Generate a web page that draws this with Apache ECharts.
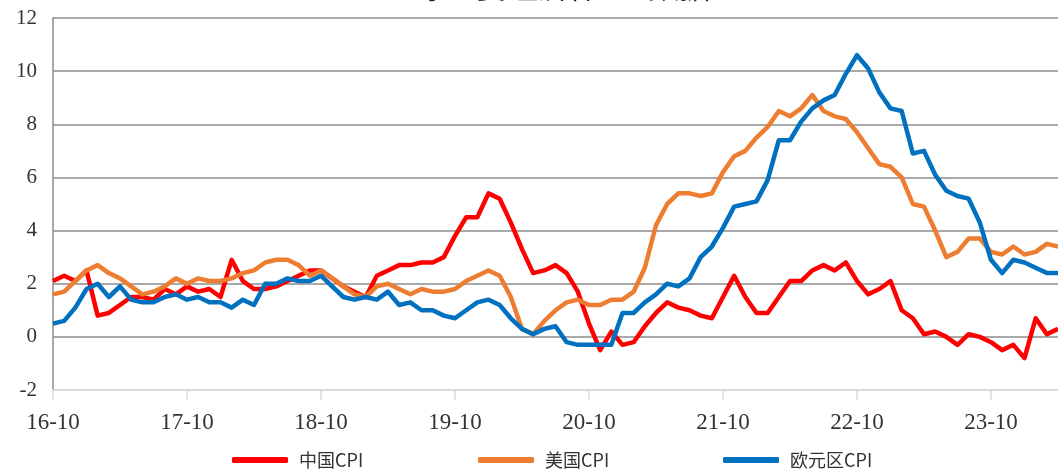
<!DOCTYPE html>
<html>
<head>
<meta charset="utf-8">
<script src="https://cdn.jsdelivr.net/npm/echarts@6/dist/echarts.min.js"></script>
<style>html,body{margin:0;padding:0;background:#fff;}#c{width:1058px;height:469px;}</style>
</head>
<body>
<div id="c"></div>
<script>
const categories = [
'16-10','16-11','16-12',
'17-01','17-02','17-03','17-04','17-05','17-06','17-07','17-08','17-09','17-10','17-11','17-12',
'18-01','18-02','18-03','18-04','18-05','18-06','18-07','18-08','18-09','18-10','18-11','18-12',
'19-01','19-02','19-03','19-04','19-05','19-06','19-07','19-08','19-09','19-10','19-11','19-12',
'20-01','20-02','20-03','20-04','20-05','20-06','20-07','20-08','20-09','20-10','20-11','20-12',
'21-01','21-02','21-03','21-04','21-05','21-06','21-07','21-08','21-09','21-10','21-11','21-12',
'22-01','22-02','22-03','22-04','22-05','22-06','22-07','22-08','22-09','22-10','22-11','22-12',
'23-01','23-02','23-03','23-04','23-05','23-06','23-07','23-08','23-09','23-10','23-11','23-12',
'24-01','24-02','24-03','24-04'];

const chinaCPI = [2.1,2.3,2.1,
2.5,0.8,0.9,1.2,1.5,1.5,1.4,1.8,1.6,1.9,1.7,1.8,
1.5,2.9,2.1,1.8,1.8,1.9,2.1,2.3,2.5,2.5,2.2,1.9,
1.7,1.5,2.3,2.5,2.7,2.7,2.8,2.8,3.0,3.8,4.5,4.5,
5.4,5.2,4.3,3.3,2.4,2.5,2.7,2.4,1.7,0.5,-0.5,0.2,
-0.3,-0.2,0.4,0.9,1.3,1.1,1.0,0.8,0.7,1.5,2.3,1.5,
0.9,0.9,1.5,2.1,2.1,2.5,2.7,2.5,2.8,2.1,1.6,1.8,
2.1,1.0,0.7,0.1,0.2,0.0,-0.3,0.1,0.0,-0.2,-0.5,-0.3,
-0.8,0.7,0.1,0.3];

const usCPI = [1.6,1.7,2.1,
2.5,2.7,2.4,2.2,1.9,1.6,1.7,1.9,2.2,2.0,2.2,2.1,
2.1,2.2,2.4,2.5,2.8,2.9,2.9,2.7,2.3,2.5,2.2,1.9,
1.6,1.5,1.9,2.0,1.8,1.6,1.8,1.7,1.7,1.8,2.1,2.3,
2.5,2.3,1.5,0.3,0.1,0.6,1.0,1.3,1.4,1.2,1.2,1.4,
1.4,1.7,2.6,4.2,5.0,5.4,5.4,5.3,5.4,6.2,6.8,7.0,
7.5,7.9,8.5,8.3,8.6,9.1,8.5,8.3,8.2,7.7,7.1,6.5,
6.4,6.0,5.0,4.9,4.0,3.0,3.2,3.7,3.7,3.2,3.1,3.4,
3.1,3.2,3.5,3.4];

const euroCPI = [0.5,0.6,1.1,
1.8,2.0,1.5,1.9,1.4,1.3,1.3,1.5,1.6,1.4,1.5,1.3,
1.3,1.1,1.4,1.2,2.0,2.0,2.2,2.1,2.1,2.3,1.9,1.5,
1.4,1.5,1.4,1.7,1.2,1.3,1.0,1.0,0.8,0.7,1.0,1.3,
1.4,1.2,0.7,0.3,0.1,0.3,0.4,-0.2,-0.3,-0.3,-0.3,-0.3,
0.9,0.9,1.3,1.6,2.0,1.9,2.2,3.0,3.4,4.1,4.9,5.0,
5.1,5.9,7.4,7.4,8.1,8.6,8.9,9.1,9.9,10.6,10.1,9.2,
8.6,8.5,6.9,7.0,6.1,5.5,5.3,5.2,4.3,2.9,2.4,2.9,
2.8,2.6,2.4,2.4];

const seriesNames = ['中国CPI','美国CPI','欧元区CPI'];
const seriesColors = ['#FF0000','#ED7D31','#0070C0'];
const seriesData = [chinaCPI, usCPI, euroCPI];
const legendLeft = [227, 473, 718];

const chart = echarts.init(document.getElementById('c'), null, {renderer:'canvas'});
const legendFont = {fontFamily:'"Noto Sans CJK SC"', fontSize:18, color:'#333'};

chart.setOption({
  animation:false,
  backgroundColor:'#fff',
  graphic:[{
    type:'text', left:383, top:-26,
    style:{text:'全球主要经济体CPI数据', font:'31px "Liberation Serif", "Noto Sans CJK SC"', fill:'#222'}
  }],
  legend: seriesNames.map((n,i)=>({
    data:[n], left:legendLeft[i], top:446, itemWidth:56, itemHeight:6, itemGap:0,
    icon:'roundRect', textStyle:Object.assign({padding:[0,0,0,6]}, legendFont)
  })),
  grid:{left:53, right:0, top:18, bottom:79, containLabel:false},
  xAxis:{
    type:'category', data:categories, boundaryGap:false,
    axisLine:{show:true, onZero:false, lineStyle:{color:'#d9d9d9', width:2}},
    axisTick:{show:true, interval:11, length:10, lineStyle:{color:'#d9d9d9', width:1.5}},
    axisLabel:{interval:11, margin:21, fontFamily:'"Liberation Serif"', fontSize:23, color:'#333'},
    splitLine:{show:false}
  },
  yAxis:{
    type:'value', min:-2, max:12, interval:2,
    axisLine:{show:true, lineStyle:{color:'#8c8c8c', width:1.5}},
    axisTick:{show:false},
    axisLabel:{margin:16, fontFamily:'"Liberation Serif"', fontSize:21, color:'#333'},
    splitLine:{show:true, lineStyle:{color:['#d9d9d9','#8c8c8c','#8c8c8c','#8c8c8c','#8c8c8c','#8c8c8c','#8c8c8c','#8c8c8c'], width:1.5}}
  },
  series: seriesNames.map((n,i)=>({
    name:n, type:'line', data:seriesData[i], symbol:'none', smooth:false,
    lineStyle:{color:seriesColors[i], width:4.5, join:'round'},
    itemStyle:{color:seriesColors[i]}, z:2+i
  }))
});
</script>
</body>
</html>
